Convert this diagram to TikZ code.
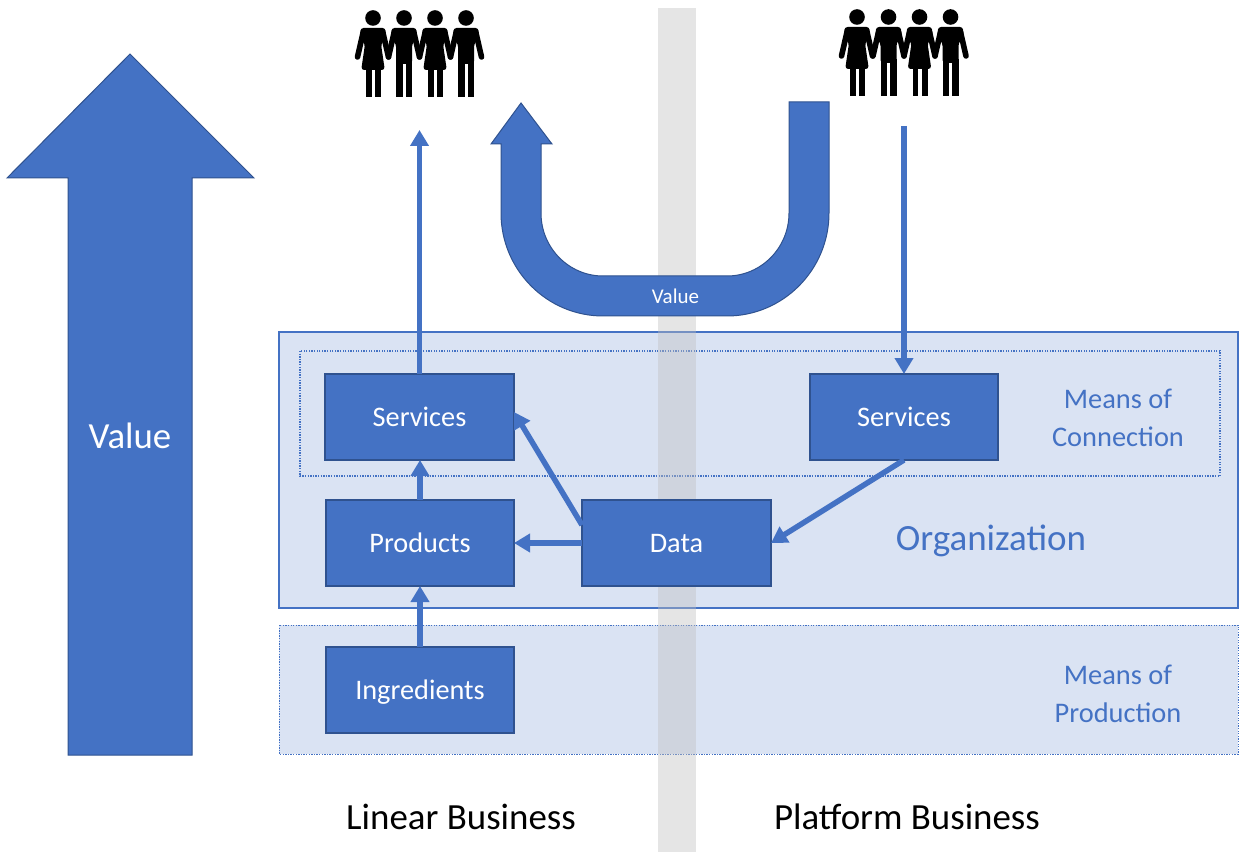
\documentclass[tikz,border=0pt]{standalone}
\usepackage{fontspec}
\setmainfont{Carlito}
\usetikzlibrary{arrows.meta}
\definecolor{mainblue}{HTML}{4472C4}
\definecolor{darkblue}{HTML}{2F528F}
\definecolor{paleblue}{HTML}{DAE3F3}
\definecolor{bandgray}{HTML}{BFBFBF}
\tikzset{
  x=1pt,y=-1pt,
  every node/.style={outer sep=0pt,inner sep=0pt},
  panel/.style={fill=paleblue,draw=mainblue,line width=1.5pt},
  dotpanel/.style={draw=mainblue,line width=1.2pt,dash pattern=on 1.3pt off 1.3pt},
  band/.style={fill=bandgray,fill opacity=.4},
  bigarrow/.style={fill=mainblue,draw=darkblue,line width=1pt,line join=miter},
  stepbox/.style={rectangle,fill=mainblue,draw=darkblue,line width=1.4pt,text=white,minimum width=188pt,minimum height=86pt,text height=18pt,text depth=0pt,font=\fontsize{28.3}{34}\selectfont},
  flow/.style={draw=mainblue,line width=5.5pt,-{Triangle[length=16pt,width=18pt]}},
  bluetext/.style={text=mainblue,align=center,font=\fontsize{28.4}{38}\selectfont},
  blacktext/.style={text=black,font=\fontsize{36.9}{44}\selectfont},
  woman/.pic={
    \fill (0,18) circle[radius=7.8];
    \fill[rounded corners=3pt] (-12.5,28) -- (12.5,28) -- (13,38) -- (8,44) -- (11.8,70) -- (-11.8,70) -- (-8,44) -- (-13,38) -- cycle;
    \fill (-6.7,69) rectangle (-1.2,97);
    \fill (2.3,69) rectangle (8,97);
    \draw[line width=5.6pt,line cap=round] (-10,33) -- (-15.5,57);
    \draw[line width=5.6pt,line cap=round] (10,33) -- (15.5,57);
  },
  manfig/.pic={
    \fill (0,18) circle[radius=7.8];
    \fill[rounded corners=3pt] (-12.5,28) -- (12.5,28) -- (13,38) -- (8,44) -- (8,64) -- (-8,64) -- (-8,44) -- (-13,38) -- cycle;
    \fill (-8,60) rectangle (-1.3,97);
    \fill (1.5,60) rectangle (8,97);
    \draw[line width=5.6pt,line cap=round] (-10,33) -- (-15.5,57);
    \draw[line width=5.6pt,line cap=round] (10,33) -- (15.5,57);
  },
}
\begin{document}
\begin{tikzpicture}
\useasboundingbox (0,0) rectangle (1244,858);
% panels
\draw[panel] (279,332) rectangle (1238,608);
\draw[dotpanel] (300,351) rectangle (1220,476);
\fill[paleblue] (279,625) rectangle (1238,754);
\draw[dotpanel,line width=.8pt] (279,625) rectangle (1238,754);
% vertical band
\fill[band] (658,8) rectangle (696,852);
% big value arrow
\draw[bigarrow] (130,54) -- (254,178) -- (192,178) -- (192,755) -- (68,755) -- (68,178) -- (7,178) -- cycle;
\node[text=white,font=\fontsize{36.8}{44}\selectfont] (valueBig) at (130,436) {Value};
% U arrow
\draw[bigarrow] (521,103) -- (552,144) -- (541,144) -- (541,213)
  .. controls (541,248) and (569,276) .. (603,276) -- (727,276)
  .. controls (761,276) and (789,248) .. (789,213) -- (789,102) -- (829,102) -- (829,213)
  .. controls (829,270) and (783,316) .. (727,316) -- (603,316)
  .. controls (547,316) and (501,270) .. (501,213) -- (501,144) -- (491,144) -- cycle;
\node[text=white,font=\fontsize{21}{25}\selectfont] (valueU) at (675.5,296) {Value};
% boxes
\node[stepbox,minimum width=189pt] (svcL) at (419.5,417) {Services};
\node[stepbox] (prod) at (420,543) {Products};
\node[stepbox,minimum width=189pt] (data) at (676.5,543) {Data};
\node[stepbox] (ingr) at (420,690) {Ingredients};
\node[stepbox] (svcR) at (904,417) {Services};
% free ends
\coordinate (peopleL) at (419.5,130);
\coordinate (peopleR) at (904,126);
% connectors
\draw[flow] (svcL.north) -- (peopleL);
\draw[flow] (peopleR) -- (svcR.north);
\draw[flow] (prod.north) -- (prod.north |- svcL.south);
\draw[flow] (ingr.north) -- (prod.south);
\draw[flow] (data.west) -- (prod.east);
\draw[flow] ([yshift=18pt]data.west) -- ([yshift=5pt]svcL.east);
\draw[flow] (svcR.south) -- (data.east);
% labels
\node[bluetext] (conn) at (1118,418) {Means of\\Connection};
\node[bluetext] (mprod) at (1118,694) {Means of\\Production};
\node[text=mainblue,font=\fontsize{37}{44}\selectfont] (org) at (991,541) {Organization};
\node[blacktext] (lin) at (461,817) {Linear Business};
\node[blacktext] (plat) at (907,817) {Platform Business};
% people
\pic at (373,0) {woman};
\pic at (404,0) {manfig};
\pic at (435,0) {woman};
\pic at (466,0) {manfig};
\pic at (857,-1) {woman};
\pic at (888.5,-1) {manfig};
\pic at (919.5,-1) {woman};
\pic at (950.5,-1) {manfig};
\end{tikzpicture}
\end{document}
